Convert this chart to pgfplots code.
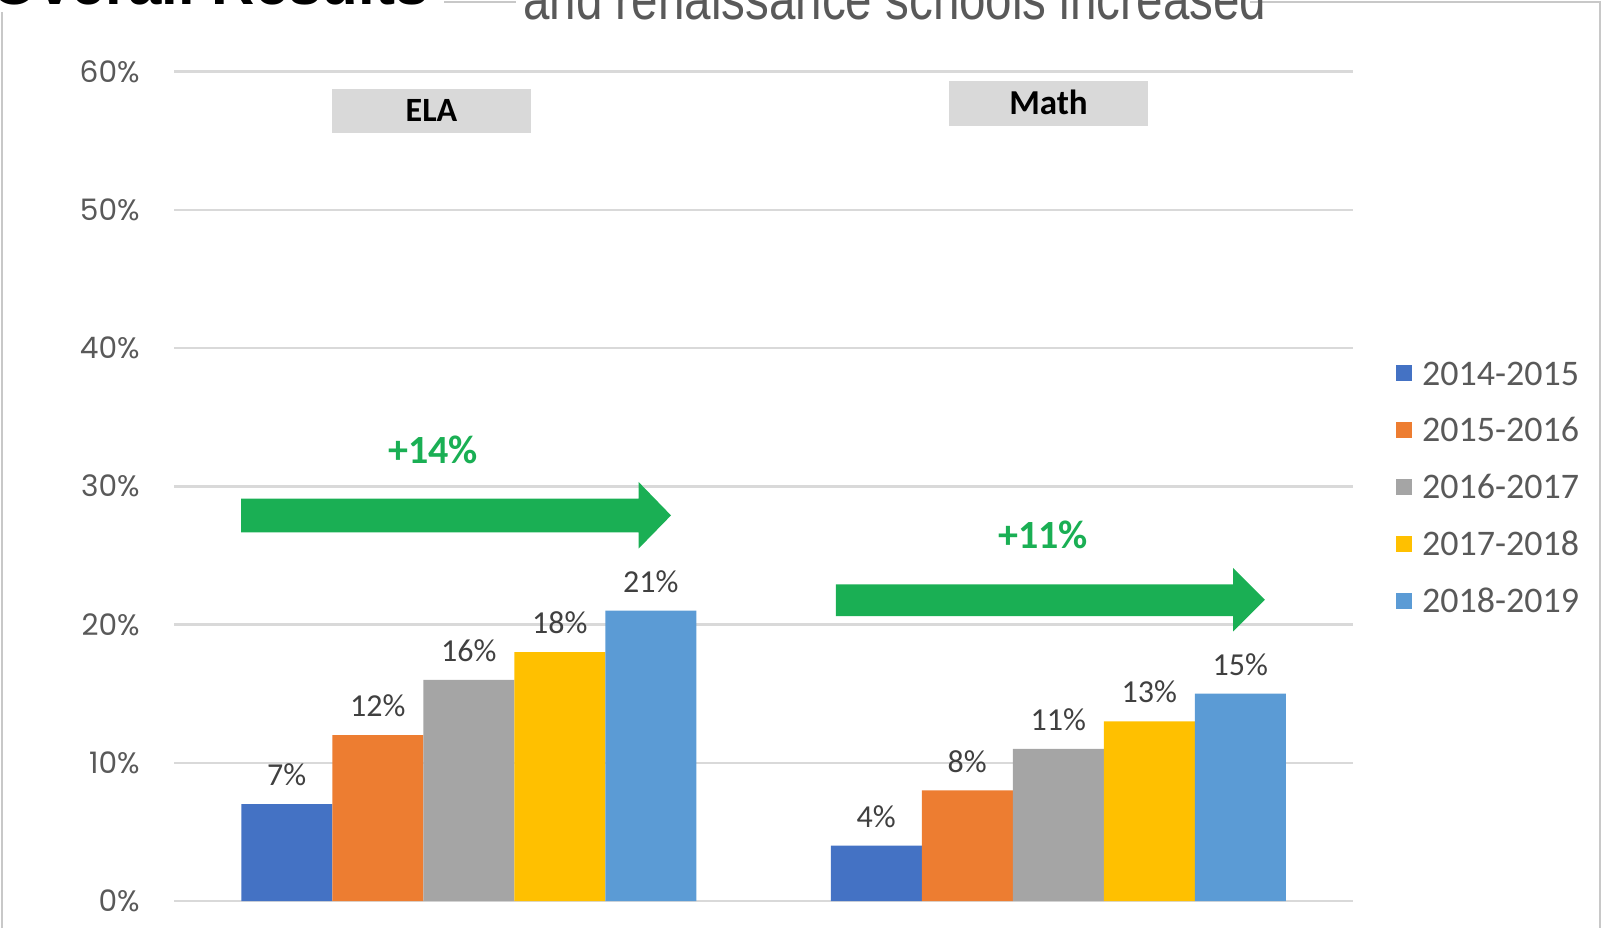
\documentclass[border=0pt]{standalone}
\usepackage{pgfplots}
\pgfplotsset{compat=1.18}
\usepackage{fontspec}
\setmainfont{Carlito}
\newfontfamily\poppins{Poppins}
\newfontfamily\arialf{Liberation Sans}
\definecolor{c1}{HTML}{4472C4}
\definecolor{c2}{HTML}{ED7D31}
\definecolor{c3}{HTML}{A5A5A5}
\definecolor{c4}{HTML}{FFC000}
\definecolor{c5}{HTML}{5B9BD5}
\definecolor{arrowgreen}{HTML}{1AAF54}
\definecolor{gridgray}{HTML}{D9D9D9}
\definecolor{tickgray}{HTML}{595959}
\definecolor{labelgray}{HTML}{404040}
\definecolor{boxgray}{HTML}{D9D9D9}
\definecolor{bordergray}{HTML}{C8C8C8}
\begin{document}
\begin{tikzpicture}[x=1pt,y=1pt]
\useasboundingbox (0,0) rectangle (801,464);
% frame
\draw[bordergray, line width=0.6pt] (1,0) -- (1,458);
\draw[bordergray, line width=0.6pt] (222,463) -- (258,463);
\draw[bordergray, line width=0.6pt] (625,463) -- (800,463) -- (800,0);
% titles (cut by the page edge)
\node[anchor=base east, inner sep=0pt, font=\arialf\bfseries\fontsize{30}{31}\selectfont] at (214.5,461.5) {Overall Results};
\node[anchor=base west, inner sep=0pt, text=tickgray] at (261.5,454) {\scalebox{0.82}[1]{\arialf\fontsize{29}{30}\selectfont and renaissance schools increased}};
\begin{axis}[
  at={(87pt,13.5pt)}, anchor=south west,
  scale only axis, width=589.5pt, height=414.75pt,
  xmin=-0.5, xmax=1.5, ymin=0, ymax=60,
  ybar=0pt, bar width=45.5pt,
  axis line style={draw=none},
  xtick=\empty,
  ytick={0,10,20,30,40,50,60},
  yticklabels={0\%,10\%,20\%,30\%,40\%,50\%,60\%},
  major tick length=0pt,
  /pgf/number format/assume math mode=true,
  ymajorgrids, grid style={line width=1.25pt, color=gridgray},
  yticklabel style={font=\poppins\fontsize{14.8}{15}\selectfont, text=tickgray, inner sep=0pt, anchor=east, xshift=-17pt},
  nodes near coords={\pgfmathprintnumber{\pgfplotspointmeta}\%},
  every node near coord/.append style={font=\fontsize{16}{17}\selectfont, text=labelgray, anchor=base, inner sep=0pt, yshift=9.2pt},
  legend image code/.code={\path[#1,draw=none] (0pt,-2.4pt) rectangle (8pt,5.6pt);},
  legend cell align=left,
  legend style={draw=none, fill=none, at={(1.0365,0.651)}, anchor=north west,
    inner sep=0pt, outer sep=0pt, font=\fontsize{18}{19}\selectfont, text=tickgray,
    row sep=12.95pt, nodes={inner sep=0pt, text height=12pt, text depth=3.5pt},
    /tikz/every odd column/.append style={column sep=5pt}},
]
\addplot[fill=c1, draw=none] coordinates {(0,7) (1,4)};
\addplot[fill=c2, draw=none] coordinates {(0,12) (1,8)};
\addplot[fill=c3, draw=none] coordinates {(0,16) (1,11)};
\addplot[fill=c4, draw=none] coordinates {(0,18) (1,13)};
\addplot[fill=c5, draw=none] coordinates {(0,21) (1,15)};
\legend{2014-2015,2015-2016,2016-2017,2017-2018,2018-2019}
\end{axis}
% subject boxes
\fill[boxgray] (166,397.5) rectangle (265.5,419.5);
\node[anchor=base, inner sep=0pt, font=\bfseries\fontsize{17}{18}\selectfont] at (215.75,403) {ELA};
\fill[boxgray] (474.5,401) rectangle (574,423.5);
\node[anchor=base, inner sep=0pt, font=\bfseries\fontsize{17.5}{18}\selectfont] at (524.25,406.6) {Math};
% arrows
\fill[arrowgreen] (120.5,197.85) -- (319.3,197.85) -- (319.3,189.7) -- (335.5,206.3) -- (319.3,223) -- (319.3,214.7) -- (120.5,214.7) -- cycle;
\fill[arrowgreen] (417.9,155.95) -- (616.6,155.95) -- (616.6,148.3) -- (632.4,164.1) -- (616.6,180) -- (616.6,171.8) -- (417.9,171.8) -- cycle;
\node[anchor=base, inner sep=0pt, text=arrowgreen, font=\bfseries\fontsize{20}{21}\selectfont] at (216.5,232.3) {+14\%};
\node[anchor=base, inner sep=0pt, text=arrowgreen, font=\bfseries\fontsize{20}{21}\selectfont] at (521.5,189.9) {+11\%};
\end{tikzpicture}
\end{document}
